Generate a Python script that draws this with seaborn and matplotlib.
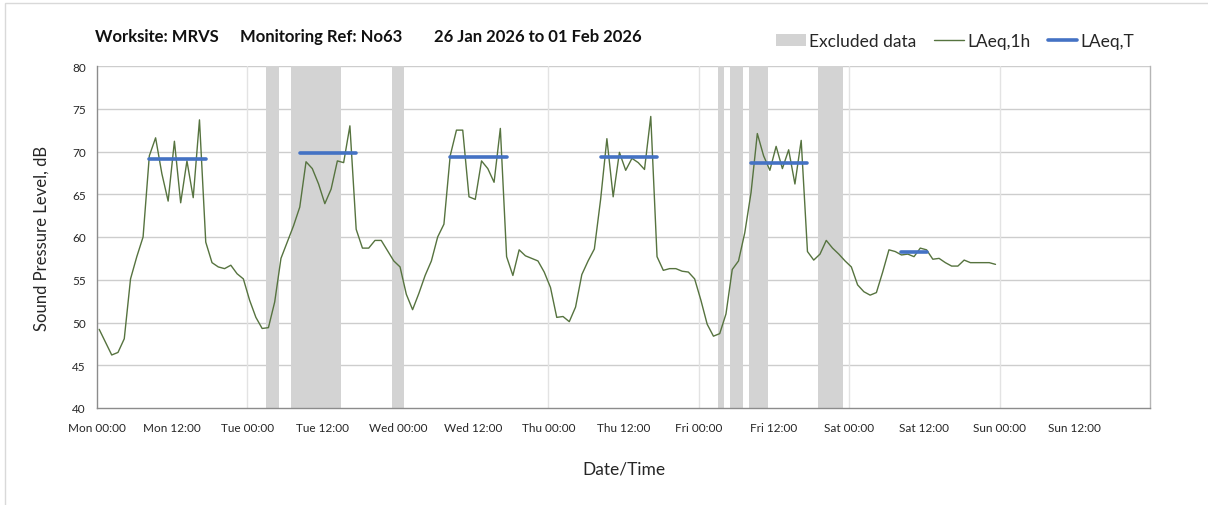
import numpy as np
import pandas as pd
import matplotlib
matplotlib.use("Agg")
import matplotlib.pyplot as plt
import seaborn as sns
from matplotlib.patches import Patch, Rectangle
from matplotlib.lines import Line2D

# ---------------- data ----------------
# hourly LAeq,1h values, Mon 00:00 .. Sat 23:00
laeq_1h = [
    49.2, 47.7, 46.2, 46.5, 48.1, 55.1, 57.7, 60.0, 69.5, 71.6, 67.4, 64.2,
    71.2, 64.0, 68.9, 64.6, 73.7, 59.4, 57.0, 56.5, 56.3, 56.7, 55.7, 55.1,
    52.6, 50.6, 49.3, 49.4, 52.4, 57.5, 59.4, 61.3, 63.5, 68.8, 68.0, 66.2,
    63.9, 65.6, 68.9, 68.7, 73.0, 60.9, 58.7, 58.7, 59.6, 59.6, 58.4, 57.2,
    56.5, 53.3, 51.5, 53.4, 55.5, 57.2, 60.0, 61.5, 69.5, 72.5, 72.5, 64.7,
    64.4, 68.9, 68.0, 66.4, 72.7, 57.7, 55.5, 58.5, 57.8, 57.5, 57.2, 55.9,
    54.1, 50.6, 50.7, 50.1, 51.8, 55.6, 57.2, 58.6, 64.4, 71.5, 64.7, 69.9,
    67.8, 69.2, 68.7, 67.9, 74.1, 57.7, 56.1, 56.3, 56.3, 56.0, 55.9, 55.1,
    52.6, 49.8, 48.4, 48.7, 51.0, 56.2, 57.2, 60.5, 65.2, 72.1, 69.5, 67.8,
    70.6, 68.0, 70.2, 66.2, 71.3, 58.3, 57.3, 58.0, 59.6, 58.7, 58.0, 57.2,
    56.5, 54.4, 53.6, 53.2, 53.5, 55.9, 58.5, 58.3, 57.9, 58.0, 57.7, 58.7,
    58.5, 57.4, 57.5, 57.0, 56.6, 56.6, 57.3, 57.0, 57.0, 57.0, 57.0, 56.8,
]
hours = list(range(len(laeq_1h)))
time_offset_h = 0.35  # readings stamped slightly after the hour

# LAeq,T periods (start hour, end hour, level)
laeq_t_start = [8, 32, 56, 80, 104, 128]
laeq_t_end = [17, 41, 65, 89, 113, 132]
laeq_t_value = [69.1, 69.8, 69.4, 69.3, 68.7, 58.2]

# excluded data periods (hours from Mon 00:00)
excl_start = [27, 31, 47, 99, 101, 104, 115]
excl_end = [29, 39, 49, 100, 103, 107, 119]

tick_labels = ["Mon 00:00", "Mon 12:00", "Tue 00:00", "Tue 12:00", "Wed 00:00",
               "Wed 12:00", "Thu 00:00", "Thu 12:00", "Fri 00:00", "Fri 12:00",
               "Sat 00:00", "Sat 12:00", "Sun 00:00", "Sun 12:00"]
y_ticks = [40, 45, 50, 55, 60, 65, 70, 75, 80]

title_parts = ["Worksite: MRVS", "Monitoring Ref: No63", "26 Jan 2026 to 01 Feb 2026"]

# ---------------- styling ----------------
sns.set_theme(style="white")
plt.rcParams["font.family"] = ["Lato", "DejaVu Sans"]

GREEN = "#56733f"
BLUE = "#4472c4"
BAND = "#d3d3d3"
GRID = "#cdcdcd"
VGRID = "#e3e3e3"
AXC = "#8c8c8c"
TXT = "#262626"

fig = plt.figure(figsize=(12.08, 5.06), dpi=100)
fig.patch.set_facecolor("white")
ax = fig.add_axes([97 / 1208, 1 - 409 / 506, (1150 - 97) / 1208, (409 - 67) / 506])

# outer chart border (partial, as in reference)
fig.add_artist(Rectangle((5 / 1208, -0.1), 1.2, 1 - 4 / 506 + 0.1,
                         transform=fig.transFigure, fill=False,
                         edgecolor="#d9d9d9", linewidth=1))

# excluded bands
for s, e in zip(excl_start, excl_end):
    ax.axvspan(s, e, color=BAND, lw=0, zorder=1)

# hourly series
df = pd.DataFrame({"t": np.array(hours) + time_offset_h, "L": laeq_1h})
sns.lineplot(data=df, x="t", y="L", ax=ax, color=GREEN, linewidth=1.0,
             zorder=3, legend=False)

# LAeq,T segments
rows = []
for i, (s, e, v) in enumerate(zip(laeq_t_start, laeq_t_end, laeq_t_value)):
    rows.append({"seg": i, "t": s + time_offset_h, "L": v})
    rows.append({"seg": i, "t": e + time_offset_h, "L": v})
dft = pd.DataFrame(rows)
sns.lineplot(data=dft, x="t", y="L", units="seg", estimator=None, ax=ax,
             color=BLUE, linewidth=2.6, zorder=4, legend=False)

# axes
ax.set_xlim(0, 168)
ax.set_ylim(40, 80)
ax.set_xticks(np.arange(0, 168, 12))
ax.set_xticklabels(tick_labels)
ax.set_yticks(y_ticks)
ax.set_yticklabels([str(v) for v in y_ticks])
ax.tick_params(axis="both", which="both", direction="out", length=4, width=0.8,
               color=AXC, labelsize=8.5, labelcolor=TXT, pad=4)
ax.tick_params(axis="x", pad=6)

for y in y_ticks[1:]:
    ax.axhline(y, color=GRID, lw=1.0, zorder=0.5)
for x in range(24, 168, 24):
    ax.axvline(x, color=VGRID, lw=1.0, zorder=0.5)

ax.spines["top"].set_visible(False)
ax.spines["left"].set_color(AXC)
ax.spines["bottom"].set_color(AXC)
ax.spines["right"].set_color("#b5b5b5")
for side in ["left", "bottom", "right"]:
    ax.spines[side].set_linewidth(1.0)

ax.set_xlabel("Date/Time", fontsize=12.5, color=TXT, labelpad=20)
ax.set_ylabel("Sound Pressure Level, dB", fontsize=12, color=TXT, labelpad=16)

# title
for part, xp in zip(title_parts, [95, 240, 434]):
    fig.text(xp / 1208, 1 - 37 / 506, part, fontsize=12, fontweight="bold",
             color="#111111", ha="left", va="center")

# legend
handles = [Patch(facecolor=BAND, edgecolor="none"),
           Line2D([0], [0], color=GREEN, lw=1.0),
           Line2D([0], [0], color=BLUE, lw=2.6)]
labels = ["Excluded data", "LAeq,1h", "LAeq,T"]
fig.legend(handles, labels, loc="center right", bbox_to_anchor=(1150 / 1208, 1 - 42 / 506),
           ncol=3, frameon=False, fontsize=12.5, handlelength=1.7, handleheight=0.7,
           columnspacing=1.0, handletextpad=0.2, labelcolor=TXT)

fig.savefig("out.png", dpi=100, facecolor="white")
